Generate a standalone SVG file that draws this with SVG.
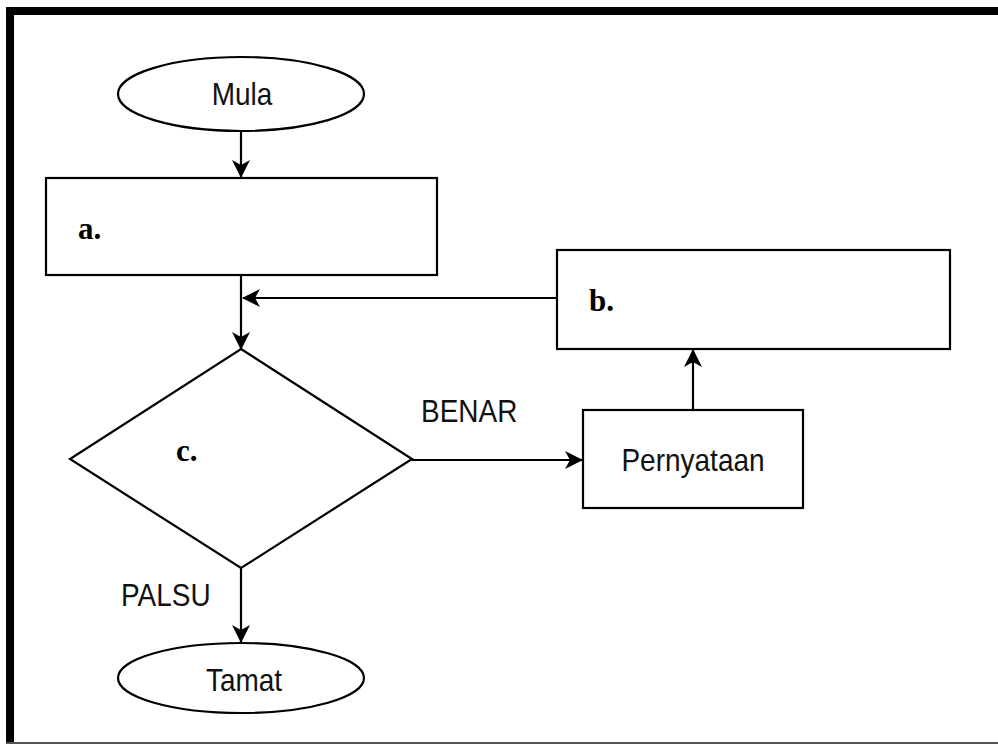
<svg xmlns="http://www.w3.org/2000/svg" width="998" height="744" viewBox="0 0 998 744">
<style>
.shape{fill:#fff;stroke:#000;stroke-width:2.2}
.conn{fill:none;stroke:#000;stroke-width:2.2}
.lbl{font-family:"Liberation Sans",Arial,sans-serif;font-size:28px;fill:#111}
.ser{font-family:"Liberation Serif","Times New Roman",serif;font-size:31px;font-weight:bold;fill:#000}
</style>
<defs>
<marker id="arr" markerWidth="18" markerHeight="20" refX="17" refY="10" orient="auto" markerUnits="userSpaceOnUse">
<path d="M0,1 L18,10 L0,19 L5,10 Z" fill="#000"/>
</marker>
</defs>
<rect x="0" y="0" width="998" height="744" fill="#fff"/>
<g id="frame">
<rect x="6" y="7" width="992" height="8" fill="#000"/>
<rect x="6" y="7" width="8" height="737" fill="#000"/>
<rect x="6" y="742" width="992" height="2" fill="#555"/>
</g>
<g id="connectors">
<line class="conn" x1="241" y1="131" x2="241" y2="177" marker-end="url(#arr)"/>
<line class="conn" x1="241" y1="275" x2="241" y2="349" marker-end="url(#arr)"/>
<line class="conn" x1="557" y1="298" x2="243" y2="298" marker-end="url(#arr)"/>
<line class="conn" x1="412" y1="460" x2="582" y2="460" marker-end="url(#arr)"/>
<line class="conn" x1="693" y1="410" x2="693" y2="350" marker-end="url(#arr)"/>
<line class="conn" x1="241" y1="568" x2="241" y2="642" marker-end="url(#arr)"/>
</g>
<g id="mula">
<ellipse class="shape" cx="241" cy="94" rx="123" ry="37"/>
<text class="lbl" transform="translate(242,105) scale(1,1.12)" text-anchor="middle">Mula</text>
</g>
<g id="node-a">
<rect class="shape" x="46" y="178" width="391" height="97"/>
<text class="ser" x="78" y="239">a.</text>
</g>
<g id="node-b">
<rect class="shape" x="557" y="250" width="393" height="99"/>
<text class="ser" x="589" y="311">b.</text>
</g>
<g id="node-c">
<polygon class="shape" points="241,349 412,459 241,568 70,459"/>
<text class="ser" x="176" y="461">c.</text>
</g>
<g id="pernyataan">
<rect class="shape" x="583" y="410" width="220" height="98"/>
<text class="lbl" transform="translate(693,471) scale(1,1.12)" text-anchor="middle">Pernyataan</text>
</g>
<g id="tamat">
<ellipse class="shape" cx="241" cy="678" rx="123" ry="35"/>
<text class="lbl" transform="translate(244,691) scale(1,1.12)" text-anchor="middle">Tamat</text>
</g>
<g id="labels">
<text class="lbl" transform="translate(421,422) scale(1,1.12)">BENAR</text>
<text class="lbl" transform="translate(121,606) scale(1,1.12)">PALSU</text>
</g>
</svg>
